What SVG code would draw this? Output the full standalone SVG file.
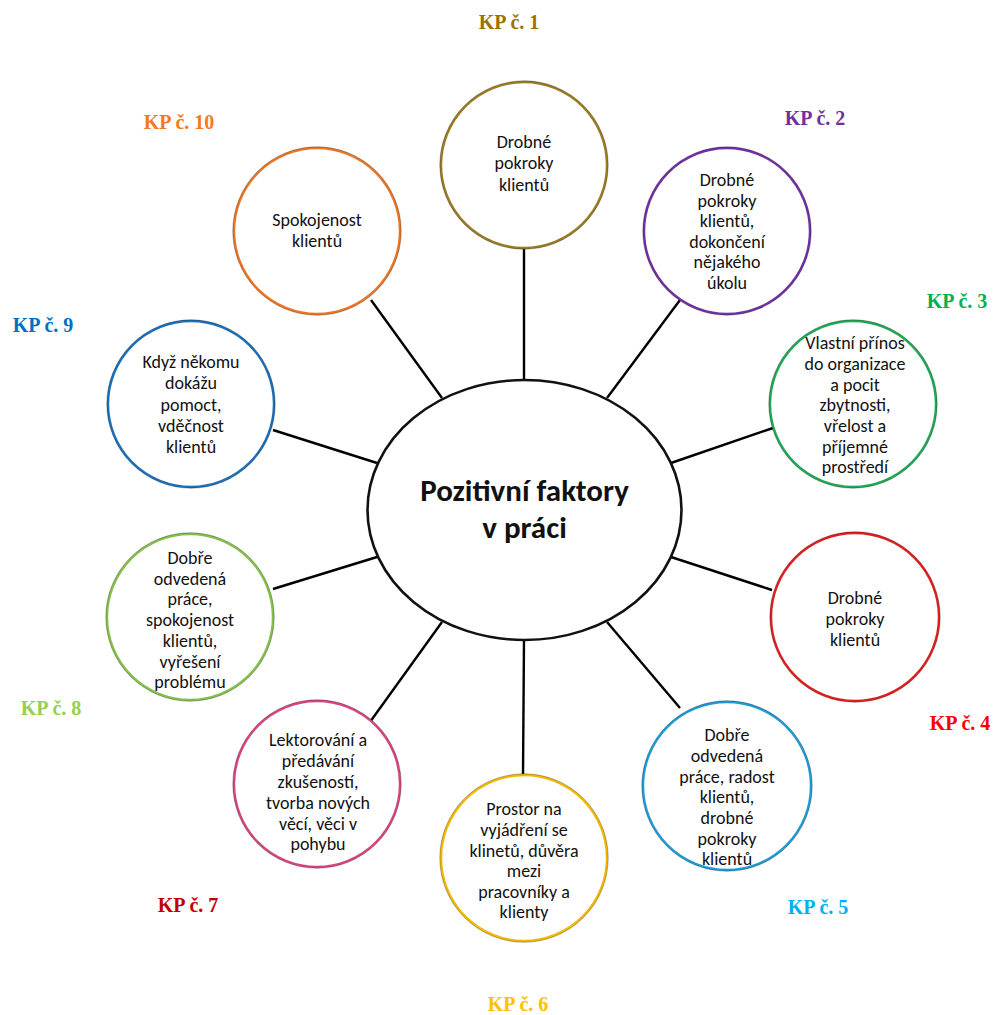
<svg xmlns="http://www.w3.org/2000/svg" width="994" height="1015" viewBox="0 0 994 1015">
  <style>
    .bg { fill: #ffffff; }
    .link { stroke: #000000; stroke-width: 2.4; fill: none; }
    .hub { fill: #ffffff; stroke: #111111; stroke-width: 2.6; }
    .hubtext { font-family: Carlito, Lato, "Liberation Sans", sans-serif; font-weight: bold; font-size: 31px; fill: #111111; text-anchor: middle; }
    .node { fill: #ffffff; stroke-width: 2.4; }
    .edge { fill: none; stroke: #000000; stroke-opacity: 0.35; stroke-width: 0.8; }
    .txt { font-family: Carlito, Lato, "Liberation Sans", sans-serif; font-size: 18px; fill: #111111; text-anchor: middle; }
    .kp { font-family: "Liberation Serif", "Times New Roman", serif; font-weight: bold; font-size: 20px; text-anchor: middle; }
  </style>

  <rect class="bg" x="0" y="0" width="994" height="1015"/>

  <!-- spokes from the hub to each node -->
  <g id="connectors">
    <line class="link" x1="524" y1="248" x2="524" y2="381"/>
    <line class="link" x1="680" y1="300" x2="607" y2="398"/>
    <line class="link" x1="773" y1="428" x2="671" y2="463"/>
    <line class="link" x1="772" y1="590" x2="671" y2="557"/>
    <line class="link" x1="680" y1="708" x2="607" y2="622"/>
    <line class="link" x1="523" y1="776" x2="524" y2="639"/>
    <line class="link" x1="370" y1="722" x2="442" y2="622"/>
    <line class="link" x1="273" y1="589" x2="377" y2="557"/>
    <line class="link" x1="273" y1="430" x2="377" y2="463"/>
    <line class="link" x1="371" y1="300" x2="442" y2="398"/>
  </g>

  <!-- central hub -->
  <g id="hub">
    <ellipse class="hub" cx="524.5" cy="510" rx="157" ry="130"/>
    <text class="hubtext" x="524.5" y="501">Pozitivní faktory</text>
    <text class="hubtext" x="524.5" y="538">v práci</text>
  </g>

  <g id="kp1">
    <circle class="node" cx="524" cy="165" r="83" stroke="#9A7B22"/>
    <circle class="edge" cx="524" cy="165" r="84.2"/>
    <text class="txt" x="524" y="148">Drobné</text>
    <text class="txt" x="524" y="169">pokroky</text>
    <text class="txt" x="524" y="191">klientů</text>
    <text class="kp" x="509" y="29" fill="#997300">KP č. 1</text>
  </g>

  <g id="kp2">
    <circle class="node" cx="727" cy="231" r="83" stroke="#7030A0"/>
    <circle class="edge" cx="727" cy="231" r="84.2"/>
    <text class="txt" x="727" y="186">Drobné</text>
    <text class="txt" x="727" y="206.5">pokroky</text>
    <text class="txt" x="727" y="227">klientů,</text>
    <text class="txt" x="727" y="247.5">dokončení</text>
    <text class="txt" x="727" y="268">nějakého</text>
    <text class="txt" x="727" y="288.5">úkolu</text>
    <text class="kp" x="815" y="125" fill="#7030A0">KP č. 2</text>
  </g>

  <g id="kp3">
    <circle class="node" cx="853" cy="404" r="83" stroke="#1FA855"/>
    <circle class="edge" cx="853" cy="404" r="84.2"/>
    <text class="txt" x="855" y="349">Vlastní přínos</text>
    <text class="txt" x="855" y="370">do organizace</text>
    <text class="txt" x="855" y="390.5">a pocit</text>
    <text class="txt" x="855" y="411">zbytnosti,</text>
    <text class="txt" x="855" y="432">vřelost a</text>
    <text class="txt" x="855" y="452.5">příjemné</text>
    <text class="txt" x="855" y="473">prostředí</text>
    <text class="kp" x="957" y="308" fill="#00B050">KP č. 3</text>
  </g>

  <g id="kp4">
    <circle class="node" cx="855" cy="617" r="84" stroke="#E01E1E"/>
    <circle class="edge" cx="855" cy="617" r="85.2"/>
    <text class="txt" x="855" y="604">Drobné</text>
    <text class="txt" x="855" y="625">pokroky</text>
    <text class="txt" x="855" y="646">klientů</text>
    <text class="kp" x="960" y="730" fill="#FF0000">KP č. 4</text>
  </g>

  <g id="kp5">
    <circle class="node" cx="727" cy="786" r="84" stroke="#1E9BD7"/>
    <circle class="edge" cx="727" cy="786" r="85.2"/>
    <text class="txt" x="727" y="741">Dobře</text>
    <text class="txt" x="727" y="762">odvedená</text>
    <text class="txt" x="727" y="782.5">práce, radost</text>
    <text class="txt" x="727" y="803">klientů,</text>
    <text class="txt" x="727" y="824">drobné</text>
    <text class="txt" x="727" y="844.5">pokroky</text>
    <text class="txt" x="727" y="865">klientů</text>
    <text class="kp" x="818" y="914" fill="#00B0F0">KP č. 5</text>
  </g>

  <g id="kp6">
    <circle class="node" cx="524" cy="858" r="83" stroke="#F2B800"/>
    <circle class="edge" cx="524" cy="858" r="84.2"/>
    <text class="txt" x="524" y="815">Prostor na</text>
    <text class="txt" x="524" y="836">vyjádření se</text>
    <text class="txt" x="524" y="856.5">klinetů, důvěra</text>
    <text class="txt" x="524" y="877">mezi</text>
    <text class="txt" x="524" y="897.5">pracovníky a</text>
    <text class="txt" x="524" y="918">klienty</text>
    <text class="kp" x="518" y="1011" fill="#FFC000">KP č. 6</text>
  </g>

  <g id="kp7">
    <circle class="node" cx="317" cy="784" r="83" stroke="#D6457F"/>
    <circle class="edge" cx="317" cy="784" r="84.2"/>
    <text class="txt" x="318" y="746">Lektorování a</text>
    <text class="txt" x="318" y="766.5">předávání</text>
    <text class="txt" x="318" y="787.5">zkušeností,</text>
    <text class="txt" x="318" y="808.5">tvorba nových</text>
    <text class="txt" x="318" y="829.5">věcí, věci v</text>
    <text class="txt" x="318" y="850">pohybu</text>
    <text class="kp" x="188" y="912" fill="#C00000">KP č. 7</text>
  </g>

  <g id="kp8">
    <circle class="node" cx="190" cy="617" r="83" stroke="#84C04A"/>
    <circle class="edge" cx="190" cy="617" r="84.2"/>
    <text class="txt" x="190" y="564">Dobře</text>
    <text class="txt" x="190" y="584.5">odvedená</text>
    <text class="txt" x="190" y="605">práce,</text>
    <text class="txt" x="190" y="626">spokojenost</text>
    <text class="txt" x="190" y="647">klientů,</text>
    <text class="txt" x="190" y="667.5">vyřešení</text>
    <text class="txt" x="190" y="688">problému</text>
    <text class="kp" x="51" y="715" fill="#92D050">KP č. 8</text>
  </g>

  <g id="kp9">
    <circle class="node" cx="191" cy="404" r="83" stroke="#1B6FB8"/>
    <circle class="edge" cx="191" cy="404" r="84.2"/>
    <text class="txt" x="191" y="368">Když někomu</text>
    <text class="txt" x="191" y="389">dokážu</text>
    <text class="txt" x="191" y="411">pomoct,</text>
    <text class="txt" x="191" y="432">vděčnost</text>
    <text class="txt" x="191" y="453">klientů</text>
    <text class="kp" x="43" y="332" fill="#0070C0">KP č. 9</text>
  </g>

  <g id="kp10">
    <circle class="node" cx="317" cy="231" r="83" stroke="#EC7424"/>
    <circle class="edge" cx="317" cy="231" r="84.2"/>
    <text class="txt" x="317" y="226">Spokojenost</text>
    <text class="txt" x="317" y="247">klientů</text>
    <text class="kp" x="179" y="129" fill="#F47920">KP č. 10</text>
  </g>
</svg>
